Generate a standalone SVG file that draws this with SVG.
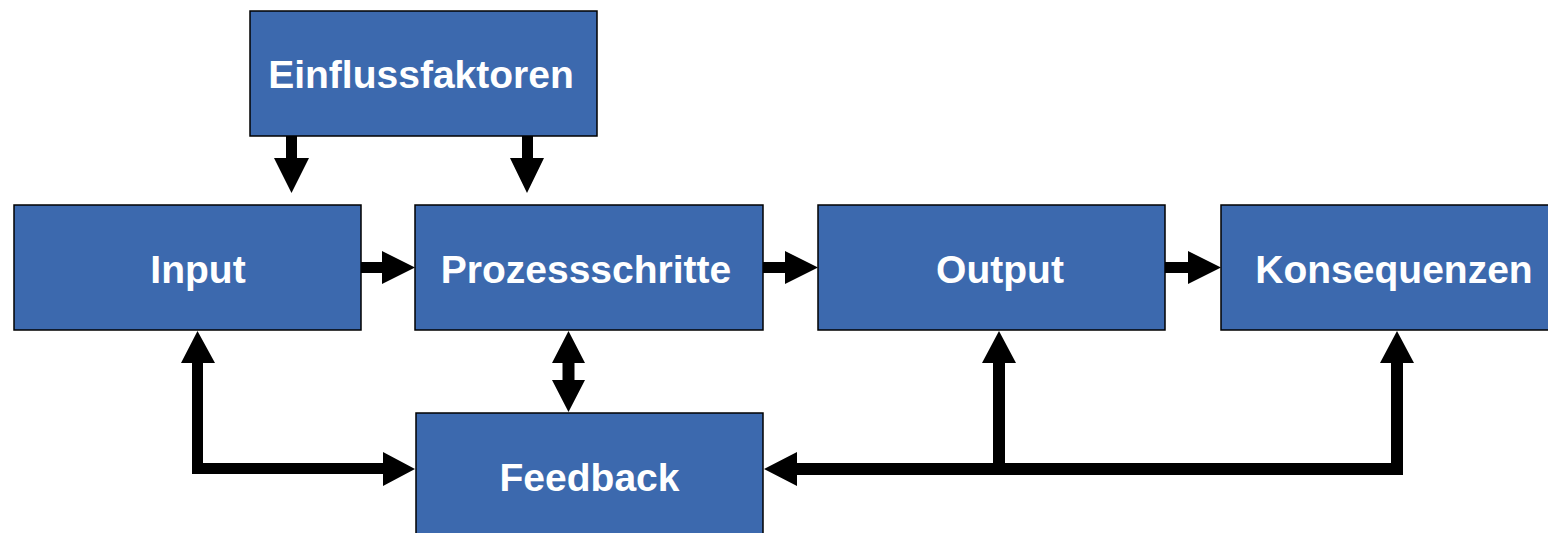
<svg xmlns="http://www.w3.org/2000/svg" width="1548" height="533" viewBox="0 0 1548 533">
  <style>
    .box { fill: #3C69AE; stroke: #000; stroke-width: 1.5; }
    .lbl { fill: #fff; font-family: "Liberation Sans", Arial, sans-serif; font-weight: bold; font-size: 39px; text-anchor: middle; }
    .arr { fill: #000; stroke: none; }
  </style>
  <rect width="1548" height="533" fill="#fff"/>

  <!-- connectors -->
  <g id="connectors">
    <!-- Einflussfaktoren -> Input / Prozessschritte -->
    <polygon class="arr" points="286,136 297,136 297,158 309,158 291.5,193 274,158 286,158"/>
    <polygon class="arr" points="522,136 533,136 533,158 544,158 527,193 510,158 522,158"/>
    <!-- main chain -->
    <polygon class="arr" points="361,262 382,262 382,251 415,267.5 382,284 382,273 361,273"/>
    <polygon class="arr" points="763,262 785,262 785,251 818,267.5 785,284 785,273 763,273"/>
    <polygon class="arr" points="1165,262 1188,262 1188,251 1221,267.5 1188,284 1188,273 1165,273"/>
    <!-- Input <-> Feedback -->
    <polygon class="arr" points="197.5,331 215,363 203,363 203,463 383,463 383,452 415,469 383,486 383,474 192,474 192,363 181,363"/>
    <!-- Prozessschritte <-> Feedback -->
    <polygon class="arr" points="568.5,331 585,363 574.5,363 574.5,380 585,380 568.5,412 552,380 562.5,380 562.5,363 552,363"/>
    <!-- Feedback <- Output / Konsequenzen -->
    <polygon class="arr" points="764,469 797,452 797,463 993,463 993,363 982,363 999,331 1016,363 1005,363 1005,463 1391,463 1391,363 1380,363 1397,331 1414,363 1403,363 1403,475 797,475 797,486"/>
  </g>

  <g id="einflussfaktoren">
    <rect class="box" x="250" y="11" width="347" height="125"/>
    <text class="lbl" x="421" y="88">Einflussfaktoren</text>
  </g>
  <g id="input">
    <rect class="box" x="14" y="205" width="347" height="125"/>
    <text class="lbl" x="198" y="283">Input</text>
  </g>
  <g id="prozessschritte">
    <rect class="box" x="415" y="205" width="348" height="125"/>
    <text class="lbl" x="586" y="283">Prozessschritte</text>
  </g>
  <g id="output">
    <rect class="box" x="818" y="205" width="347" height="125"/>
    <text class="lbl" x="1000" y="283">Output</text>
  </g>
  <g id="konsequenzen">
    <rect class="box" x="1221" y="205" width="347" height="125"/>
    <text class="lbl" x="1394" y="283">Konsequenzen</text>
  </g>
  <g id="feedback">
    <rect class="box" x="416" y="413" width="347" height="140"/>
    <text class="lbl" x="589.5" y="491">Feedback</text>
  </g>
</svg>
